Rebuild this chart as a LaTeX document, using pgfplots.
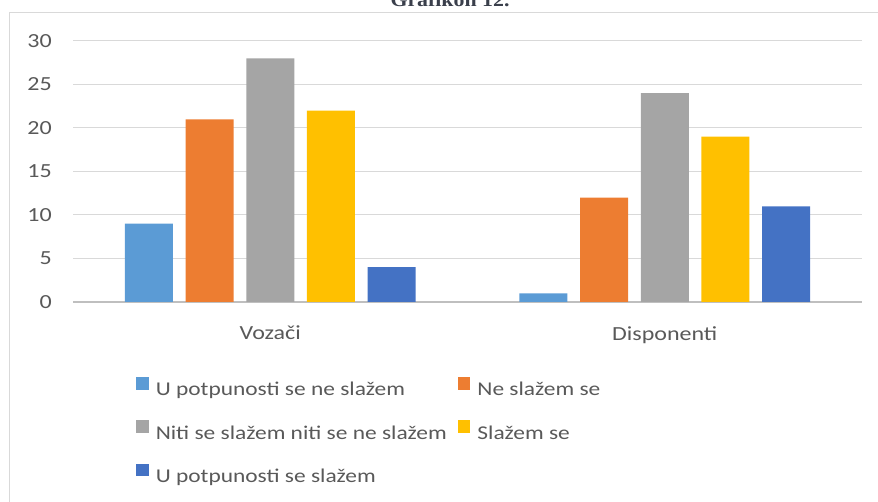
\documentclass[border=0pt]{standalone}
\usepackage{pgfplots}
\pgfplotsset{compat=1.18}
\usepackage{fontspec}
\setmainfont[FakeStretch=1.2]{Carlito}
\newfontfamily\titlefont[FakeStretch=1.15]{Liberation Serif}
\definecolor{c1}{HTML}{5B9BD5}
\definecolor{c2}{HTML}{ED7D31}
\definecolor{c3}{HTML}{A5A5A5}
\definecolor{c4}{HTML}{FFC000}
\definecolor{c5}{HTML}{4472C4}
\definecolor{gridgray}{HTML}{D9D9D9}
\definecolor{axisgray}{HTML}{BFBFBF}
\definecolor{txtgray}{HTML}{595959}
\definecolor{titlecol}{HTML}{3A3F4B}
\begin{document}
\begin{tikzpicture}
\path[use as bounding box, clip] (0pt,0pt) rectangle (878pt,502pt);
\draw[gridgray, line width=1pt] (9.5pt,489.5pt) rectangle (900pt,-20pt);
\node[anchor=base, font=\titlefont\bfseries\fontsize{19}{22}\selectfont, text=titlecol] at (450pt,495pt) {Grafikon 12.};
\begin{axis}[
  at={(73pt,200pt)}, anchor=south west,
  scale only axis, width=789pt, height=261pt,
  ymin=0, ymax=30, ytick={0,5,...,30},
  xmin=-0.5, xmax=1.5, xtick={0,1}, xticklabels={Vozači, Disponenti},
  axis x line*=bottom, axis y line*=left,
  x axis line style={draw=axisgray, line width=1.2pt, -},
  y axis line style={draw=none},
  major tick length=0pt, tick style={draw=none},
  ymajorgrids, grid style={draw=gridgray, line width=1pt},
  /pgf/number format/assume math mode=true,
  tick label style={font=\fontsize{20}{24}\selectfont, text=txtgray, inner sep=0pt},
  yticklabel style={anchor=east, xshift=-21pt},
  xticklabel style={anchor=north, yshift=-24pt},
  ybar, bar width=48pt,
  legend columns=2,
  legend style={draw=none, fill=none, at={(0.076,-0.28)}, anchor=north west,
    font=\fontsize{19.5}{23}\selectfont, text=txtgray, row sep=23pt,
    /tikz/every odd column/.append style={column sep=7pt},
    /tikz/every even column/.append style={column sep=11pt},
    nodes={inner sep=0pt, inner xsep=0pt}},
  legend cell align=left,
  legend image code/.code={\fill[#1] (0pt,0pt) rectangle (12.6pt,12.6pt);},
]
\addplot[fill=c1, draw=none, bar shift=-121.4pt] coordinates {(0,9) (1,1)};
\addplot[fill=c2, draw=none, bar shift=-60.7pt] coordinates {(0,21) (1,12)};
\addplot[fill=c3, draw=none, bar shift=0pt] coordinates {(0,28) (1,24)};
\addplot[fill=c4, draw=none, bar shift=60.7pt] coordinates {(0,22) (1,19)};
\addplot[fill=c5, draw=none, bar shift=121.4pt] coordinates {(0,4) (1,11)};
\legend{U potpunosti se ne slažem, Ne slažem se, Niti se slažem niti se ne slažem, Slažem se, U potpunosti se slažem}
\end{axis}
\end{tikzpicture}
\end{document}
